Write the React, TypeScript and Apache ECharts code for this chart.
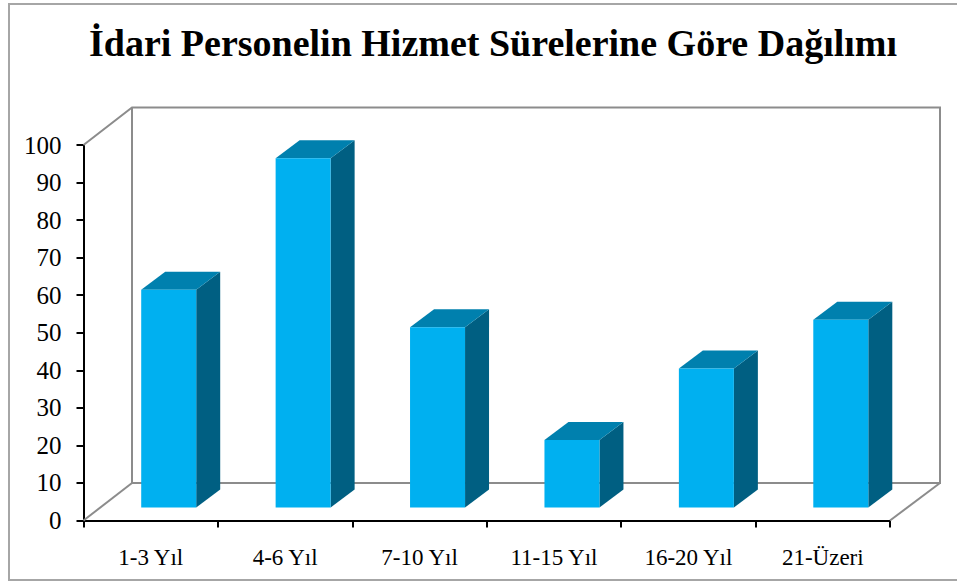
import React, { useEffect, useRef } from "react";
import * as echarts from "echarts";

const titleText = "İdari Personelin Hizmet Sürelerine Göre Dağılımı";
const categories = ["1-3 Yıl", "4-6 Yıl", "7-10 Yıl", "11-15 Yıl", "16-20 Yıl", "21-Üzeri"];
const personel = [58, 93, 48, 18, 37, 50];

const FONT = '"Liberation Serif", "Times New Roman", serif';
const WALL = "#8c8c8c";
const depth = { x: 48.5, y: 37.5 };
const barShift = { x: 18, y: 13 };
const barDepth = { x: 24, y: 18 };

export default function App() {
  const ref = useRef<HTMLDivElement>(null);
  useEffect(() => {
    const chart = echarts.init(ref.current!, null, { renderer: "svg" });
    chart.setOption({
      animation: false,
      backgroundColor: "#ffffff",
      title: {
        text: titleText,
        left: 488,
        top: 19,
        textAlign: "center",
        textStyle: { fontFamily: FONT, fontWeight: "bold", fontSize: 38, color: "#000" },
      },
      grid: { left: 83.5, top: 145, width: 806.5, height: 375.5 },
      graphic: [
        {
          type: "polyline",
          z: -10,
          shape: { points: [[957, 4], [9, 4], [9, 580], [957, 580]] },
          style: { stroke: "#a6a6a6", lineWidth: 2, fill: "none" },
        },
      ],
      xAxis: {
        type: "category",
        data: categories,
        boundaryGap: true,
        axisLine: { lineStyle: { color: "#000", width: 2 } },
        axisTick: { show: true, length: 7, lineStyle: { color: "#000", width: 2 } },
        axisLabel: { fontFamily: FONT, fontSize: 23, color: "#000", margin: 25 },
        splitLine: { show: false },
      },
      yAxis: {
        type: "value",
        min: 0,
        max: 100,
        interval: 10,
        axisLine: { show: true, lineStyle: { color: "#000", width: 2 } },
        axisTick: { show: true, length: 7, lineStyle: { color: "#000", width: 2 } },
        axisLabel: { fontFamily: FONT, fontSize: 25, color: "#000", margin: 22 },
        splitLine: { show: false },
      },
      series: [
        {
          type: "custom",
          name: "walls",
          silent: true,
          z: 1,
          clip: false,
          coordinateSystem: "cartesian2d",
          data: [[0, 0]],
          encode: { x: 0, y: 1 },
          renderItem: (_p: any, api: any) => {
            const band = api.size([1, 0])[0];
            const o = api.coord([0, 0]);
            const t = api.coord([0, 100]);
            const x0 = o[0] - band / 2;
            const x1 = x0 + band * categories.length;
            const style = { stroke: WALL, lineWidth: 2, fill: "none" };
            const poly = (points: number[][]) => ({ type: "polyline", shape: { points }, style });
            const bx0 = x0 + depth.x;
            const bx1 = x1 + depth.x + 1.5;
            const by0 = o[1] - depth.y;
            const by1 = t[1] - depth.y;
            return {
              type: "group",
              children: [
                poly([[x0, t[1]], [bx0, by1], [bx1, by1], [bx1, by0], [bx0, by0], [bx0, by1]]),
                poly([[bx0, by0], [x0, o[1]]]),
                poly([[bx1, by0], [x1, o[1]]]),
              ],
            };
          },
        },
        {
          type: "custom",
          name: "Personel",
          z: 3,
          clip: false,
          coordinateSystem: "cartesian2d",
          data: personel.map((v, i) => [i, v]),
          encode: { x: 0, y: 1 },
          renderItem: (_p: any, api: any) => {
            const i = api.value(0);
            const top = api.coord([i, api.value(1)]);
            const base = api.coord([i, 0]);
            const w = 55;
            const l = top[0] + barShift.x - w / 2;
            const r = l + w;
            const yt = top[1] - barShift.y;
            const yb = base[1] - barShift.y;
            const dx = barDepth.x;
            const dy = barDepth.y;
            return {
              type: "group",
              children: [
                { type: "polygon", shape: { points: [[r, yt], [r + dx, yt - dy], [r + dx, yb - dy], [r, yb]] }, style: { fill: "#005F82" } },
                { type: "polygon", shape: { points: [[l, yt], [l + dx, yt - dy], [r + dx, yt - dy], [r, yt]] }, style: { fill: "#0080AE" } },
                { type: "rect", shape: { x: l, y: yt, width: w, height: yb - yt }, style: { fill: "#00B0F0" } },
              ],
            };
          },
        },
      ],
    });
    return () => chart.dispose();
  }, []);
  return <div ref={ref} style={{ position: "fixed", left: 0, top: 0, width: 957, height: 583 }} />;
}
